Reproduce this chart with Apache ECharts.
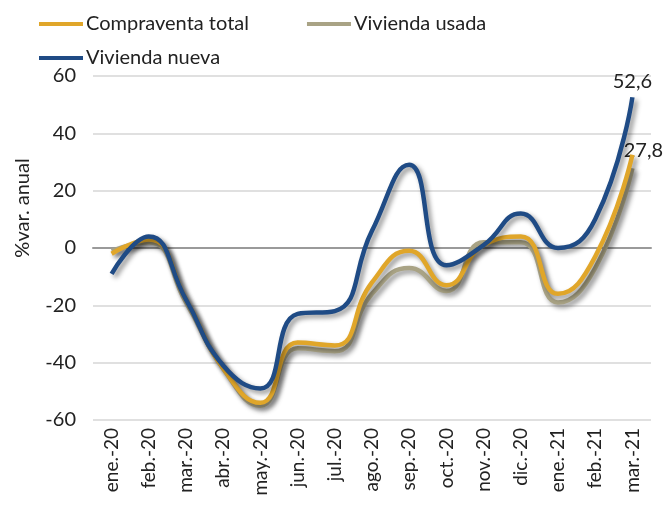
<!DOCTYPE html>
<html>
<head>
<meta charset="utf-8">
<script src="https://cdn.jsdelivr.net/npm/echarts@6/dist/echarts.min.js"></script>
<style>
  html, body {margin: 0; padding: 0; background: #fff;}
  #chart {width: 664px; height: 518px;}
</style>
</head>
<body>
<div id="chart"></div>
<script>
const months = ['ene.-20', 'feb.-20', 'mar.-20', 'abr.-20', 'may.-20', 'jun.-20', 'jul.-20',
  'ago.-20', 'sep.-20', 'oct.-20', 'nov.-20', 'dic.-20', 'ene.-21', 'feb.-21', 'mar.-21']
const compraventaTotal = [-2, 3, -18, -42, -54, -33, -34, -12, -1, -13, 1, 4, -16, -3, 32.5]
const viviendaUsada = [-1, 2, -19, -42, -55, -35, -36, -16, -7, -15, 2, 2, -19, -7, 27.8]
const viviendaNueva = [-9, 4, -18, -41, -49, -23, -22, 6, 29, -6, 1, 12, 0, 10, 52.6]
const yTicks = {min: -60, max: 60, interval: 20}

const font = 'Lato'
const chart = echarts.init(document.getElementById('chart'))

const lastLabel = (show, offset) => ({
  show: show,
  position: 'top',
  distance: 6,
  offset: offset,
  color: '#222',
  fontFamily: font,
  fontSize: 20,
  formatter: p => p.dataIndex === months.length - 1 ? String(p.value).replace('.', ',') : ''
})

const lineSeries = (name, data, color, z, label) => ({
  name: name,
  type: 'line',
  data: data,
  smooth: 0.5,
  symbol: 'circle',
  symbolSize: 0.1,
  showSymbol: true,
  z: z,
  lineStyle: {
    color: color,
    width: 4.5,
    shadowColor: 'rgba(0,0,0,0.45)',
    shadowBlur: 5,
    shadowOffsetX: 3,
    shadowOffsetY: 3
  },
  itemStyle: {color: color},
  label: label
})

chart.setOption({
  animation: false,
  textStyle: {fontFamily: font},
  legend: [
    {
      data: ['Compraventa total', 'Vivienda usada'],
      left: 34, top: 9,
      itemWidth: 44, itemHeight: 4, itemGap: 58,
      icon: 'rect',
      textStyle: {fontSize: 20, color: '#222', fontFamily: font, padding: [0, 0, 0, -2]}
    },
    {
      data: ['Vivienda nueva'],
      left: 34, top: 43,
      itemWidth: 44, itemHeight: 4,
      icon: 'rect',
      textStyle: {fontSize: 20, color: '#222', fontFamily: font, padding: [0, 0, 0, -2]}
    }
  ],
  graphic: [{
    type: 'text',
    x: 23, y: 208,
    rotation: Math.PI / 2,
    style: {
      text: '%var. anual',
      fontSize: 20,
      fontFamily: font,
      fill: '#222',
      align: 'center',
      verticalAlign: 'middle'
    }
  }],
  grid: {left: 93, right: 13, top: 76, bottom: 98},
  xAxis: {
    type: 'category',
    data: months,
    boundaryGap: true,
    axisLine: {onZero: true, lineStyle: {color: '#9a9a9a', width: 2}},
    axisTick: {show: false},
    axisLabel: {rotate: 90, color: '#222', fontSize: 19, fontFamily: font, margin: 8, interval: 0}
  },
  yAxis: {
    type: 'value',
    min: yTicks.min, max: yTicks.max, interval: yTicks.interval,
    axisLine: {show: false},
    axisTick: {show: false},
    axisLabel: {color: '#222', fontSize: 20, fontFamily: font, margin: 17},
    splitLine: {lineStyle: {color: '#e0e0e0', width: 2}}
  },
  series: [
    lineSeries('Vivienda usada', viviendaUsada, '#a9a385', 2, lastLabel(true, [11, -2])),
    lineSeries('Compraventa total', compraventaTotal, '#e0a62a', 3, lastLabel(false, [0, 0])),
    lineSeries('Vivienda nueva', viviendaNueva, '#1f4b85', 4, lastLabel(true, [0, 0]))
  ]
})
</script>
</body>
</html>
